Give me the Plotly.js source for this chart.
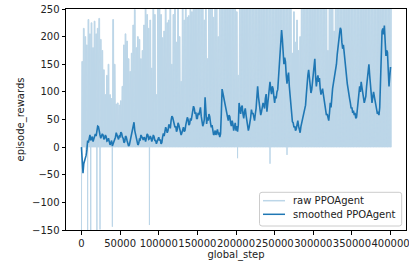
<!DOCTYPE html>
<html><head><meta charset="utf-8">
<script src="https://cdn.plot.ly/plotly-3.0.1.min.js"></script>
<style>html,body{margin:0;padding:0;background:#fff}#chart{width:409px;height:264px}</style>
</head><body><div id="chart"></div>
<script>
// global_step spacing between recorded bins
const RAW_STEP = 2000;
const SMOOTH_STEP = 1000;

// raw PPOAgent: per-bin peak and trough episode rewards (values above 250 are clipped in view)
const rawHigh = [
  155,215,200,185,231,205,225,180,228,205,
  215,233,195,175,140,95,130,150,95,88,
  231,150,78,80,76,84,110,185,205,192,
  160,137,170,221,249,180,200,195,160,175,
  221,260,240,215,230,143,260,240,95,260,
  260,240,198,210,260,225,230,260,150,240,
  260,190,260,200,119,260,230,260,235,238,
  260,245,260,260,250,260,260,260,255,230,
  260,160,260,260,250,235,260,260,200,260,
  260,260,255,260,260,260,260,260,260,260,
  245,130,260,260,260,260,260,260,260,260,
  260,260,260,260,260,260,260,260,260,260,
  260,260,260,260,260,260,260,260,260,260,
  260,260,260,260,260,260,170,245,190,230,
  175,200,260,260,260,260,260,260,260,260,
  260,260,260,260,260,260,260,260,260,175,
  260,260,260,210,260,260,260,260,260,260,
  260,260,260,260,260,260,260,260,260,260,
  260,260,260,260,260,260,260,260,260,260,
  260,260,260,260,260,260,260,260,260,260,
  260
];
const rawLow = [
  -160,0,0,-8,-160,0,-160,0,0,0,
  -160,0,-149,0,0,0,0,0,0,0,
  -144,0,0,0,0,0,0,0,0,0,
  0,0,0,0,0,0,0,0,0,0,
  0,0,0,0,-141,0,0,0,0,0,
  0,0,0,0,0,0,0,0,0,0,
  0,0,0,0,0,0,0,0,0,0,
  0,0,0,0,0,0,0,0,0,0,
  0,0,0,0,0,0,0,0,0,0,
  0,0,0,0,0,0,0,0,0,0,
  0,-20,0,0,0,0,0,0,0,0,
  0,0,0,0,0,0,0,0,0,0,
  0,0,-30,0,0,0,0,0,0,0,
  0,0,0,-14,0,0,0,0,0,0,
  0,0,0,0,0,0,0,0,0,0,
  0,0,0,0,0,0,0,0,0,0,
  0,0,0,0,0,0,0,0,0,0,
  0,0,0,0,0,0,0,0,0,0,
  0,0,0,0,0,0,0,0,0,0,
  0,0,0,0,0,0,0,0,0,0,
  0
];

// smoothed PPOAgent
const smoothed = [
  0,-20,-47,-30,-26,-20,-15,-5,12,8,18,22,12,16,19,10,14,22,24,20,
  28,38,37,25,22,16,19,24,22,14,16,22,19,11,12,16,10,4,8,12,
  2,6,10,16,18,26,22,14,14,20,19,27,25,18,16,8,10,20,18,12,
  8,2,4,12,18,24,28,36,45,30,22,14,10,4,6,14,13,22,19,14,
  13,18,16,10,19,24,22,14,15,20,17,10,14,22,19,12,12,6,10,16,
  18,12,14,6,8,18,25,20,28,36,32,26,30,40,40,34,48,56,54,46,
  44,36,38,28,32,44,40,32,30,22,26,34,36,28,30,40,46,54,50,40,
  42,52,48,58,62,74,70,60,63,52,52,62,58,70,72,56,45,38,42,50,
  90,70,42,54,48,60,55,44,36,40,30,22,24,30,22,28,32,24,25,18,
  24,60,105,98,90,84,80,66,60,52,48,58,55,44,38,48,42,30,36,44,
  30,38,28,40,80,66,60,72,75,60,52,64,70,58,50,38,30,36,42,54,
  68,60,62,52,48,60,70,90,110,92,78,66,58,64,70,80,76,70,88,96,
  64,80,92,108,118,104,96,110,106,92,80,92,88,100,104,125,150,180,205,212,
  195,170,150,162,155,130,115,128,135,110,90,70,52,46,44,36,38,30,33,42,
  48,38,30,26,37,44,48,56,60,68,76,95,118,130,140,126,112,98,104,116,
  128,145,160,128,110,122,130,118,125,105,95,100,106,96,88,76,70,58,60,52,
  48,62,80,72,96,106,115,124,135,142,150,168,185,196,205,216,212,190,178,185,
  168,160,150,128,115,106,100,88,80,70,72,62,66,58,62,52,54,66,82,96,
  110,100,118,108,100,88,80,86,92,110,128,140,150,130,110,94,80,90,100,92,
  84,76,70,60,64,58,72,130,195,210,215,204,220,190,165,175,172,140,110,128,
  145
];

const xTicks = [0,50000,100000,150000,200000,250000,300000,350000,400000];
const yTicks = [-150,-100,-50,0,50,100,150,200,250];
const seriesNames = ['raw PPOAgent', 'smoothed PPOAgent'];
const rawColor = 'rgb(188,214,232)';
const smoothColor = '#1f77b4';

// build raw trace: trough at bin start, peak held across the bin
const rawX = [], rawY = [];
for (let i = 0; i < rawHigh.length; i++) {
  const s = i * RAW_STEP;
  rawX.push(s, s + RAW_STEP / 4, s + 3 * RAW_STEP / 4);
  rawY.push(rawLow[i], rawHigh[i], rawHigh[i]);
}
const smX = smoothed.map((_, i) => i * SMOOTH_STEP);

const font = {family: 'DejaVu Sans, sans-serif', size: 10, color: '#222'};

const traces = [
  {x: rawX, y: rawY, type: 'scatter', mode: 'lines', name: seriesNames[0],
   fill: 'tozeroy', fillcolor: rawColor, showlegend: false,
   line: {color: rawColor, width: 1}},
  {x: smX, y: smoothed, type: 'scatter', mode: 'lines', name: seriesNames[1],
   showlegend: false, line: {color: smoothColor, width: 1.6}}
];

// plot-area geometry (pixels) for the matplotlib-style legend box
const M = {l: 66, r: 3, t: 9, b: 34}, W = 409, H = 264;
const PW = W - M.l - M.r, PH = H - M.t - M.b;
const px = v => (v - M.l) / PW;
const py = v => (H - M.b - v) / PH;

function roundRect(x0, y0, x1, y1, r) {
  const rx = r / PW, ry = r / PH;
  const X0 = px(x0), X1 = px(x1), Y0 = py(y0), Y1 = py(y1);
  return `M ${X0 + rx},${Y0} L ${X1 - rx},${Y0} Q ${X1},${Y0} ${X1},${Y0 - ry} ` +
         `L ${X1},${Y1 + ry} Q ${X1},${Y1} ${X1 - rx},${Y1} L ${X0 + rx},${Y1} ` +
         `Q ${X0},${Y1} ${X0},${Y1 + ry} L ${X0},${Y0 - ry} Q ${X0},${Y0} ${X0 + rx},${Y0} Z`;
}

const legendRows = [200.7, 214.3];
const legendColors = [rawColor, smoothColor];
const shapes = [{
  type: 'path', xref: 'paper', yref: 'paper', path: roundRect(259.5, 192.3, 401.7, 226, 2.5),
  fillcolor: 'rgba(255,255,255,0.8)', line: {color: '#cccccc', width: 1}, layer: 'above'
}];
const annotations = [];
legendRows.forEach((row, k) => {
  shapes.push({type: 'line', xref: 'paper', yref: 'paper', x0: px(263), x1: px(285),
    y0: py(row), y1: py(row), line: {color: legendColors[k], width: 1.5}, layer: 'above'});
  annotations.push({xref: 'paper', yref: 'paper', x: px(290.5), y: py(row), xanchor: 'left',
    yanchor: 'middle', text: seriesNames[k], showarrow: false, font: font});
});

const axisCommon = {
  showgrid: false, zeroline: false, showline: true, mirror: true,
  linecolor: '#000', linewidth: 1, ticks: 'outside', ticklen: 3.5,
  tickcolor: '#000', tickwidth: 1, tickfont: font, automargin: false,
  ticklabeloverflow: 'allow'
};

const layout = {
  width: W, height: H, margin: M,
  paper_bgcolor: '#fff', plot_bgcolor: '#fff', font: font,
  showlegend: false,
  xaxis: Object.assign({}, axisCommon, {
    range: [-20000, 420000], tickmode: 'array', tickvals: xTicks,
    ticktext: xTicks.map(String), tickangle: 0,
    title: {text: 'global_step', font: font, standoff: 3}
  }),
  yaxis: Object.assign({}, axisCommon, {
    range: [-150, 250], tickmode: 'array', tickvals: yTicks,
    title: {text: 'episode_rewards', font: font, standoff: 5}
  }),
  shapes: shapes, annotations: annotations
};

Plotly.newPlot('chart', traces, layout, {displayModeBar: false, staticPlot: true});
</script>
</body></html>
